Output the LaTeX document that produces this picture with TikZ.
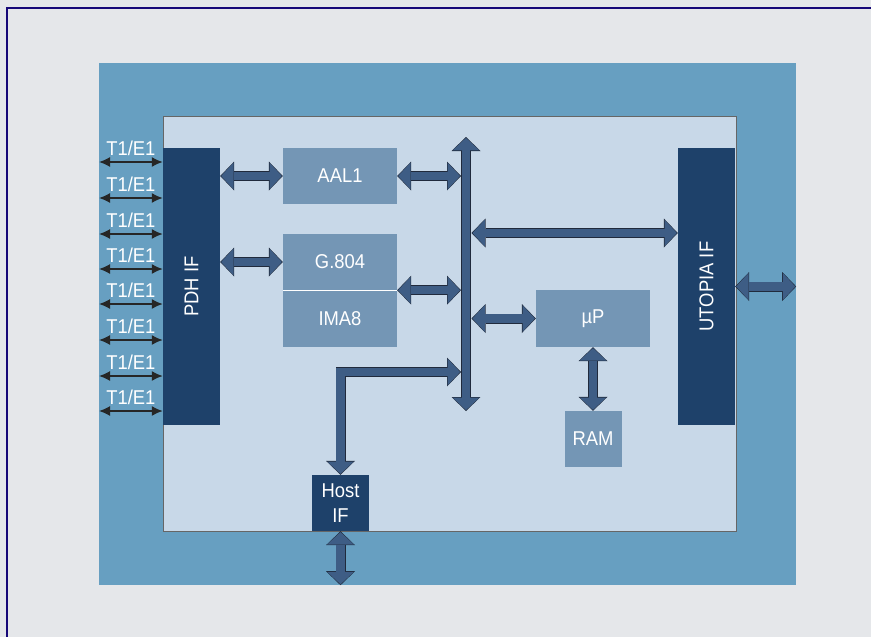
\documentclass[tikz,border=0pt]{standalone}
\usepackage{fontspec}
\setmainfont{Liberation Sans}[FakeStretch=0.92]
\usepackage{tikz}
\usetikzlibrary{arrows.meta}
\usetikzlibrary{positioning}

\definecolor{pagegray}{RGB}{229,231,234}
\definecolor{framenavy}{RGB}{22,8,120}
\definecolor{boardblue}{RGB}{103,159,193}
\definecolor{chipblue}{RGB}{200,216,232}
\definecolor{darkblock}{RGB}{30,65,106}
\definecolor{midblock}{RGB}{116,150,181}
\definecolor{busfill}{RGB}{62,93,133}
\definecolor{busline}{RGB}{32,42,60}

\tikzset{
  darkbox/.style={fill=darkblock, text=white, minimum width=57pt, inner sep=0pt},
  midbox/.style={fill=midblock, text=white, minimum width=114pt, minimum height=56pt, inner sep=0pt},
  tline/.style={line width=1.6pt, black!85, {Latex[length=11pt,width=10pt]}-{Latex[length=11pt,width=10pt]}},
  tlabel/.style={text=white, inner sep=0pt, above=6pt}
}

\newcommand{\busarrow}[1]{
\draw[line width=10pt, busline, {Triangle[width=29pt,length=14pt,line width=0pt]}-{Triangle[width=29pt,length=14pt,line width=0pt]}] #1;
\draw[line width=8.4pt, busfill, {Triangle[width=26.6pt,length=12.4pt,line width=0pt]}-{Triangle[width=26.6pt,length=12.4pt,line width=0pt]}, shorten <=0.9pt, shorten >=0.9pt] #1;
}

\begin{document}
\begin{tikzpicture}[x=1pt, y=-1pt, font=\fontsize{20}{25}\selectfont]
\useasboundingbox (0,0) rectangle (871,637);
\fill[pagegray] (0,0) rectangle (871,637);
\draw[framenavy, line width=1.5pt] (7,640) -- (7,8) -- (875,8);

\node[fill=boardblue, minimum width=697pt, minimum height=522pt, inner sep=0pt] (board) at (447.5,324) {};
\node[fill=chipblue, draw=black!60, line width=0.8pt, minimum width=573pt, minimum height=415pt, inner sep=0pt] (chip) at (449.5,323.5) {};

\node[darkbox, minimum height=277pt] (pdh) at (191.5,286.5) {\rotatebox{90}{PDH IF}};
\node[darkbox, minimum height=277pt] (utopia) at (706.5,286.5) {\rotatebox{90}{UTOPIA IF}};
\node[midbox] (aal) at (340,176) {AAL1};
\node[midbox] (g804) at (340,262) {G.804};
\node[midbox] (ima) at (340,319) {IMA8};
\draw[white, line width=1pt] (g804.south west) -- (g804.south east);
\node[midbox, minimum height=57pt] (up) at (593,318.5) {µP};
\node[midbox, minimum width=57pt] (ram) at (593,439) {RAM};
\node[darkbox, minimum height=56pt, align=center] (host) at (340.5,503) {Host\\IF};

\coordinate (t1) at (99,162);
\coordinate (t2) at (99,198);
\coordinate (t3) at (99,234);
\coordinate (t4) at (99,269);
\coordinate (t5) at (99,304);
\coordinate (t6) at (99,340);
\coordinate (t7) at (99,376);
\coordinate (t8) at (99,411);
\draw[tline] (t1) -- (t1 -| pdh.west) node[midway, tlabel] (l1) {T1/E1};
\draw[tline] (t2) -- (t2 -| pdh.west) node[midway, tlabel] (l2) {T1/E1};
\draw[tline] (t3) -- (t3 -| pdh.west) node[midway, tlabel] (l3) {T1/E1};
\draw[tline] (t4) -- (t4 -| pdh.west) node[midway, tlabel] (l4) {T1/E1};
\draw[tline] (t5) -- (t5 -| pdh.west) node[midway, tlabel] (l5) {T1/E1};
\draw[tline] (t6) -- (t6 -| pdh.west) node[midway, tlabel] (l6) {T1/E1};
\draw[tline] (t7) -- (t7 -| pdh.west) node[midway, tlabel] (l7) {T1/E1};
\draw[tline] (t8) -- (t8 -| pdh.west) node[midway, tlabel] (l8) {T1/E1};

\coordinate (bustop) at (466,137);
\coordinate (busbot) at (466,411);
\coordinate (busW) at (461,0);
\coordinate (busE) at (471.5,0);
\coordinate (utolink) at (471.5,233);
\coordinate (hostlink) at (461,372);

\busarrow{(pdh.east |- aal.west) -- (aal.west)}
\busarrow{(pdh.east |- g804.west) -- (g804.west)}
\busarrow{(aal.east) -- (aal.east -| busW)}
\busarrow{(g804.south east) -- (g804.south east -| busW)}
\busarrow{(utolink) -- (utolink -| utopia.west)}
\busarrow{(up.west -| busE) -- (up.west)}
\busarrow{(up.south) -- (ram.north)}
\busarrow{(host.north) |- (hostlink)}
\busarrow{(host.south) -- (host.south |- board.south)}
\busarrow{(utopia.east) -- (utopia.east -| board.east)}
\busarrow{(bustop) -- (busbot)}
\end{tikzpicture}
\end{document}
